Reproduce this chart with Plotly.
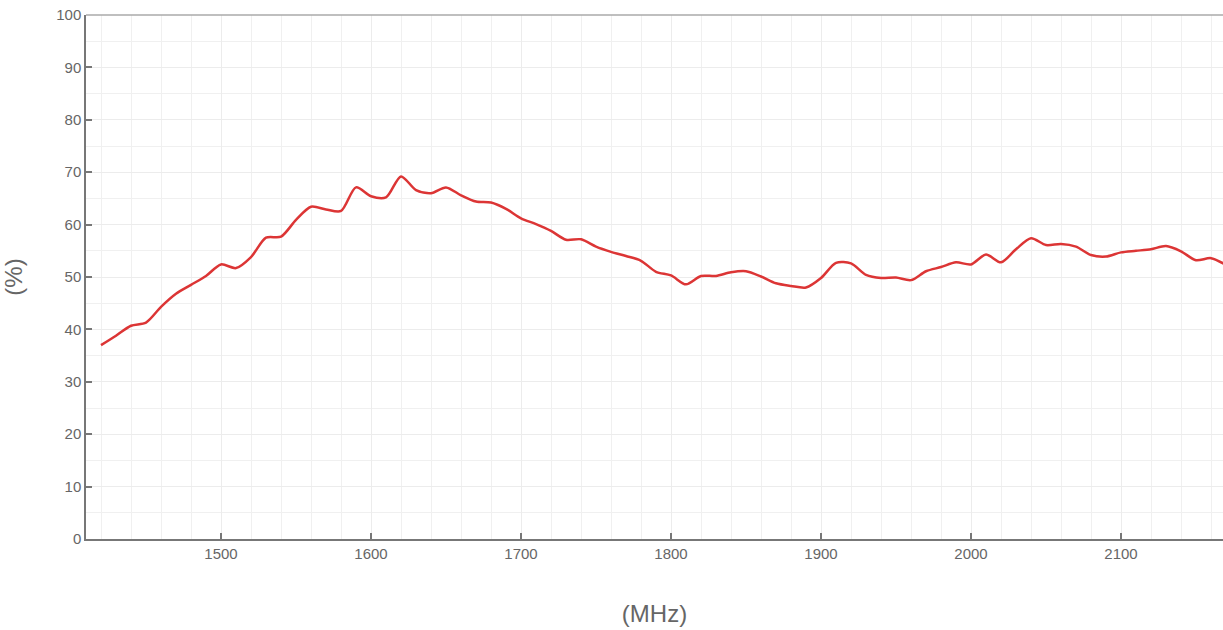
import plotly.graph_objects as go

freq_mhz = list(range(1420, 2171, 10))
efficiency_pct = [
    37.0, 38.8, 40.7, 41.3, 44.3, 46.8, 48.5, 50.2, 52.4, 51.7,
    53.8, 57.5, 57.7, 60.9, 63.4, 62.9, 62.6, 67.1, 65.4, 65.2,
    69.2, 66.6, 66.0, 67.1, 65.6, 64.4, 64.2, 63.0, 61.2, 60.1,
    58.8, 57.1, 57.2, 55.8, 54.8, 54.0, 53.1, 51.0, 50.3, 48.6,
    50.2, 50.2, 50.9, 51.1, 50.1, 48.8, 48.3, 48.0, 49.8, 52.7,
    52.6, 50.4, 49.8, 49.9, 49.4, 51.1, 51.9, 52.8, 52.4, 54.3,
    52.8, 55.3, 57.4, 56.1, 56.3, 55.8, 54.2, 53.9, 54.7, 55.0,
    55.3, 55.9, 54.9, 53.2, 53.6, 52.3,
]
x_title = "(MHz)"
y_title = "(%)"

FONT = "Arial, Liberation Sans, sans-serif"

fig = go.Figure()
fig.add_trace(go.Scatter(
    x=freq_mhz, y=efficiency_pct, mode="lines",
    line=dict(color="#dc3535", width=2.5, shape="spline", smoothing=0.8),
    showlegend=False, cliponaxis=True,
))

axis_common = dict(
    showline=True, linecolor="#777777", linewidth=1.5, mirror=False,
    ticks="inside", ticklen=6, tickcolor="#777777", tickwidth=1.5,
    showgrid=True, gridcolor="#ececec", gridwidth=1,
    zeroline=False,
    tickfont=dict(family=FONT, size=15, color="#666666"),
)

fig.update_xaxes(
    **axis_common,
    range=[1410, 2168], dtick=100, tick0=1500,
    minor=dict(dtick=20, tick0=1400, showgrid=True, gridcolor="#f0f0f0", ticks=""),
    title=dict(text=x_title, font=dict(family=FONT, size=24, color="#666666"), standoff=44),
)
fig.update_yaxes(
    **axis_common,
    range=[0, 100], dtick=10,
    minor=dict(dtick=5, showgrid=True, gridcolor="#f0f0f0", ticks=""),
    title=dict(text=y_title, font=dict(family=FONT, size=24, color="#666666"), standoff=31),
)

fig.add_shape(type="line", xref="paper", yref="paper", x0=0, x1=1, y0=1, y1=1,
              line=dict(color="#aaaaaa", width=1.5))

fig.update_layout(
    width=1223, height=630,
    margin=dict(l=86, r=0, t=15, b=91),
    plot_bgcolor="white", paper_bgcolor="white",
)

fig.write_html(
    "out.html",
    config={"displayModeBar": False},
    post_script="document.body.style.margin='0';document.body.style.overflow='hidden';",
)
